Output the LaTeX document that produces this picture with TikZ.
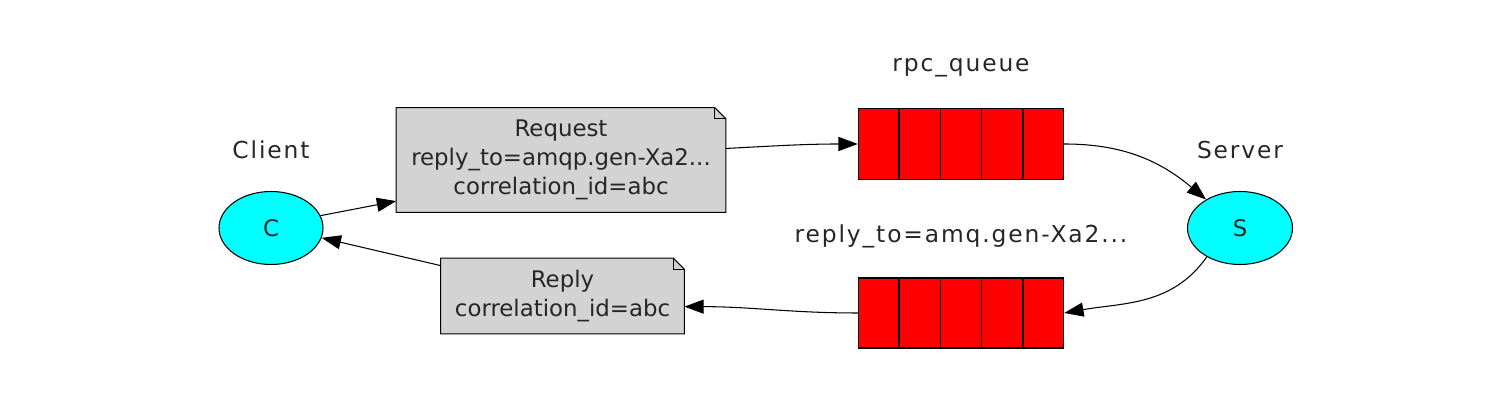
\documentclass[tikz,border=0pt]{standalone}
\usepackage{fontspec}
\setmainfont{DejaVu Sans}
\usetikzlibrary{arrows.meta,calc,backgrounds,shapes.geometric}
\definecolor{notegray}{RGB}{211,211,211}
\definecolor{queuered}{RGB}{255,0,0}
\definecolor{peercyan}{RGB}{0,255,255}

\begin{document}
\begin{tikzpicture}[
    font=\fontsize{13}{16.5}\selectfont,
    text=black!85,
    peer/.style={draw, ellipse, fill=peercyan, line width=0.6pt, minimum width=2.08cm, minimum height=1.46cm},
    caption/.style={font=\fontsize{13.3}{16.5}\selectfont\addfontfeatures{LetterSpace=8}},
    message/.style={align=center, inner sep=0pt},
    queue/.style={draw, rectangle, fill=queuered, line width=0.8pt, minimum width=4.1cm, minimum height=1.42cm},
    flow/.style={-{Triangle[length=11pt,width=8pt]}, line width=0.6pt}
]
    \useasboundingbox (0,0) rectangle (30.24,8.24);

    % Client and server
    \node[peer] (client) at (5.42,3.68) {C};
    \node[caption] (clientlabel) at (5.42,5.24) {Client};
    \node[peer, minimum width=2.1cm] (server) at (24.8,3.68) {S};
    \node[caption] (serverlabel) at (24.8,5.24) {Server};

    % Messages
    \node[message, minimum width=6.58cm, minimum height=2.08cm] (request) at (11.22,5.04)
        {Request\\reply\_to=amqp.gen-Xa2...\\correlation\_id=abc};
    \node[message, minimum width=4.86cm, minimum height=1.5cm] (reply) at (11.25,2.32)
        {Reply\\correlation\_id=abc};
    \begin{scope}[on background layer]
        \foreach \n in {request,reply} {
            \filldraw[fill=notegray, line width=0.6pt] (\n.south west) -- (\n.north west)
                -- ([xshift=-0.22cm]\n.north east) -- ([yshift=-0.22cm]\n.north east)
                -- (\n.south east) -- cycle;
            \draw[line width=0.6pt] ([xshift=-0.22cm]\n.north east) -- ++(0,-0.22cm)
                -- ([yshift=-0.22cm]\n.north east);
        }
    \end{scope}

    % Queues
    \node[queue] (rpcqueue) at (19.22,5.36) {};
    \node[caption] (rpclabel) at (19.22,6.88) {rpc\_queue};
    \node[queue, minimum height=1.4cm] (replyqueue) at (19.22,1.98) {};
    \node[caption] (replylabel) at (19.22,3.52) {reply\_to=amq.gen-Xa2...};
    \foreach \q in {rpcqueue,replyqueue}
        \foreach \i in {1,...,4}
            \draw[line width=0.8pt] ($(\q.south west)!\i/5!(\q.south east)$) -- ($(\q.north west)!\i/5!(\q.north east)$);

    % Connections
    \draw[flow] (client.14) -- (request.194);
    \draw[flow] (request.4) to[out=3, in=180] (rpcqueue.west);
    \draw[flow] (rpcqueue.east) to[out=0, in=140] (server.140);
    \draw[flow] (server.221) to[out=235, in=10] (replyqueue.east);
    \draw[flow] (replyqueue.west) to[out=180, in=0] (reply.-5);
    \draw[flow] (reply.166) -- (client.-11);
\end{tikzpicture}
\end{document}
